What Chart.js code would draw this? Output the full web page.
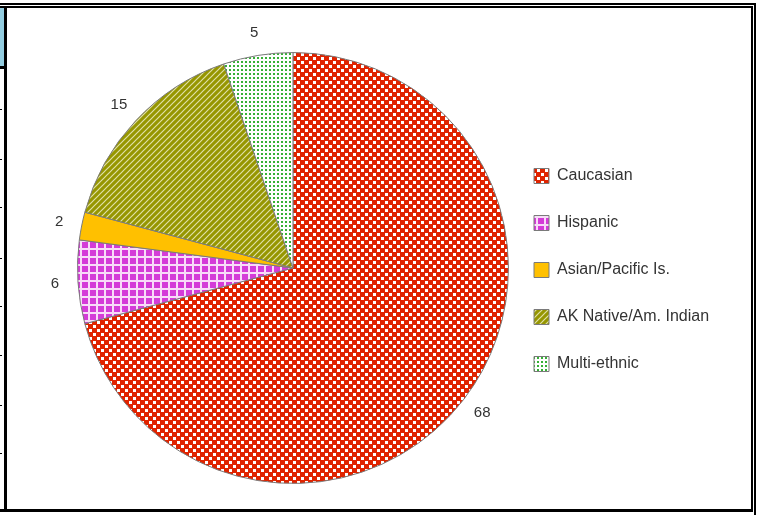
<!DOCTYPE html>
<html lang="en">
<head>
    <meta charset="UTF-8">
    <title>Ethnicity Pie</title>
    <style>
        body { margin: 0; background: #fff; font-family: "Liberation Sans", Arial, sans-serif; }
        .wrap { position: relative; width: 757px; height: 515px; overflow: hidden; }
        .ln { position: absolute; background: #000; }
        canvas { position: absolute; left: 0; top: 0; }
    </style>
</head>
<body>
<div class="wrap">
    <canvas id="pie" width="757" height="515"></canvas>
    <!-- frame around the picture -->
    <div class="ln" style="left:0;top:3px;width:756px;height:2px"></div>
    <div class="ln" style="left:754px;top:3px;width:2px;height:512px"></div>
    <div class="ln" style="left:0;top:6px;width:753px;height:2px"></div>
    <div class="ln" style="left:751px;top:6px;width:2px;height:505px"></div>
    <div class="ln" style="left:0;top:509px;width:753px;height:3px"></div>
    <div class="ln" style="left:4px;top:6px;width:3px;height:506px"></div>
    <div style="position:absolute;left:0;top:8px;width:4px;height:58px;background:#93cde0"></div>
    <div class="ln" style="left:0;top:66px;width:5px;height:3px"></div>
    <div id="ticks"></div>
</div>

<script src="https://cdn.jsdelivr.net/npm/chart.js"></script>
<script>
    const categories = ['Caucasian', 'Hispanic', 'Asian/Pacific Is.', 'AK Native/Am. Indian', 'Multi-ethnic'];
    const values = [68, 6, 2, 15, 5];

    // little tick marks on the left edge
    [109, 159, 207, 258, 306, 355, 405, 453].forEach(function (y) {
        const d = document.createElement('div');
        d.className = 'ln';
        d.style.cssText = 'left:0;top:' + y + 'px;width:2px;height:1px';
        document.getElementById('ticks').appendChild(d);
    });

    function makePattern(w, h, draw) {
        const c = document.createElement('canvas');
        c.width = w; c.height = h;
        const g = c.getContext('2d');
        draw(g, w, h);
        return document.getElementById('pie').getContext('2d').createPattern(c, 'repeat');
    }

    const redDots = makePattern(8, 8, function (g, w, h) {
        g.fillStyle = '#e02400'; g.fillRect(0, 0, w, h);
        g.fillStyle = '#ffffff';
        g.fillRect(1, 1, 3, 3);
        g.fillRect(5, 5, 3, 3);
    });
    const pinkGrid = makePattern(8, 8, function (g, w, h) {
        g.fillStyle = '#d43cd8'; g.fillRect(0, 0, w, h);
        g.fillStyle = '#f8dcf8';
        g.fillRect(0, 0, w, 2);
        g.fillRect(0, 0, 2, h);
    });
    const oliveStripes = makePattern(6, 6, function (g, w, h) {
        g.fillStyle = '#969600'; g.fillRect(0, 0, w, h);
        g.strokeStyle = '#e0e0a8'; g.lineWidth = 1.2;
        g.beginPath();
        g.moveTo(-1, h + 1); g.lineTo(w + 1, -1);
        g.moveTo(-1, 1); g.lineTo(1, -1);
        g.moveTo(w - 1, h + 1); g.lineTo(w + 1, h - 1);
        g.stroke();
    });
    const greenDots = makePattern(4, 4, function (g, w, h) {
        g.fillStyle = '#ffffff'; g.fillRect(0, 0, w, h);
        g.fillStyle = '#36b036';
        g.fillRect(1, 1, 2, 2);
    });

    const valueLabels = {
        id: 'valueLabels',
        afterDatasetsDraw(chart) {
            const ctx = chart.ctx;
            ctx.save();
            ctx.font = '15px "Liberation Sans", Arial, sans-serif';
            ctx.fillStyle = '#333';
            ctx.textAlign = 'center';
            ctx.textBaseline = 'middle';
            chart.getDatasetMeta(0).data.forEach(function (arc, i) {
                const p = arc.getProps(['x', 'y', 'startAngle', 'endAngle', 'outerRadius'], true);
                const mid = (p.startAngle + p.endAngle) / 2;
                const r = p.outerRadius + 23;
                ctx.fillText(String(values[i]), p.x + Math.cos(mid) * r, p.y + Math.sin(mid) * r);
            });
            ctx.restore();
        }
    };

    // push the legend right so the pie can keep its size
    const legendShift = {
        id: 'legendShift',
        afterLayout(chart) {
            const lg = chart.legend;
            const dx = 503 - lg.left;
            lg.left += dx;
            lg.right += dx;
            lg.top += 2;
            lg.bottom += 2;
        }
    };

    new Chart(document.getElementById('pie'), {
        type: 'pie',
        data: {
            labels: categories,
            datasets: [{
                data: values,
                backgroundColor: [redDots, pinkGrid, '#ffc000', oliveStripes, greenDots],
                borderColor: '#7a7a7a',
                borderWidth: 1,
                hoverOffset: 0
            }]
        },
        options: {
            responsive: false,
            animation: false,
            devicePixelRatio: 1,
            layout: { padding: { left: 77, top: 52, bottom: 31, right: 32 } },
            plugins: {
                tooltip: { enabled: false },
                legend: {
                    position: 'right',
                    labels: {
                        boxWidth: 15,
                        boxHeight: 15,
                        padding: 31,
                        color: '#333',
                        font: { family: '"Liberation Sans", Arial, sans-serif', size: 16 }
                    }
                }
            }
        },
        plugins: [valueLabels, legendShift]
    });
</script>
</body>
</html>
